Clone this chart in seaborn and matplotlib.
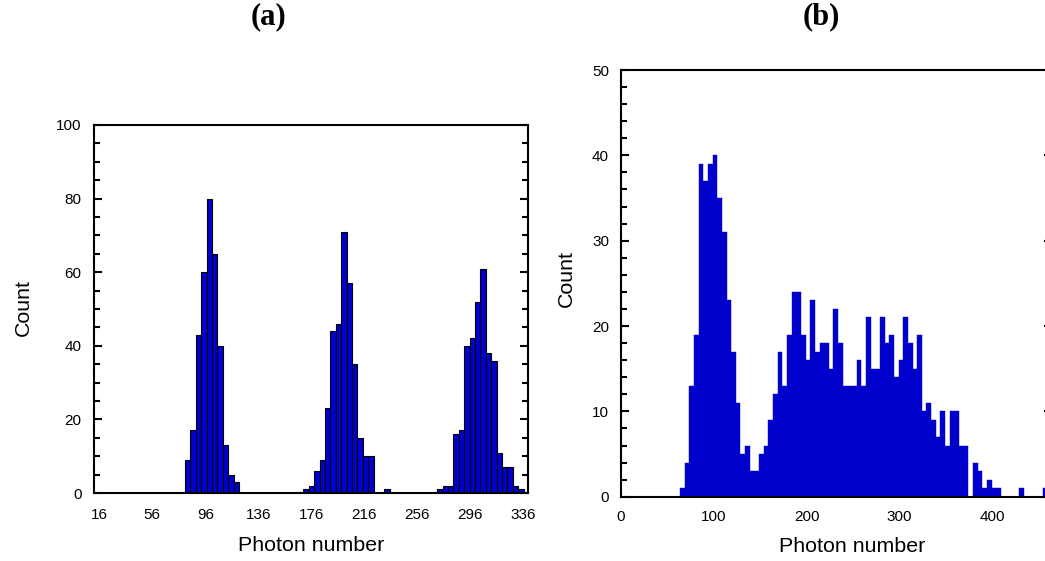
#!/usr/bin/env python3
#
# Photon number histograms, panels (a) and (b)
#
import numpy as np
import pandas as pd
import matplotlib
matplotlib.use('Agg')
import matplotlib.pyplot as plt
import seaborn as sns
from matplotlib.ticker import MultipleLocator

# Panel (a): three separate histograms (one per peak), same bin width
a_bin_width = 4.08
a_peak_starts = [80.7, 170.1, 271.1]
a_peak_counts = [
    [9, 17, 43, 60, 80, 65, 40, 13, 5, 3],
    [1, 2, 6, 9, 23, 44, 46, 71, 57, 35, 15, 10, 10, 0, 0, 1],
    [1, 2, 2, 16, 17, 40, 42, 52, 61, 38, 36, 11, 7, 7, 2, 1],
]
a_xticks = [16, 56, 96, 136, 176, 216, 256, 296, 336]

# Panel (b): one histogram, bin width 5
b_bin_width = 5
b_start = 64
b_counts = [
    1, 4, 13, 19, 39, 37, 39, 40, 35, 31, 23, 17, 11, 5, 6, 3, 3, 5, 6, 9,
    12, 17, 13, 19, 24, 24, 19, 16, 23, 17, 18, 18, 15, 22, 18, 13, 13, 13,
    16, 13, 21, 15, 15, 21, 18, 19, 14, 16, 21, 18, 15, 19, 10, 11, 9, 7,
    10, 6, 10, 10, 6, 6, 0, 4, 3, 1, 2, 1, 1, 0, 0, 0, 0, 1, 0, 0, 0, 0, 1,
]
b_xticks = [0, 100, 200, 300, 400]

blue = '#0000CC'

sns.set_style('white')
plt.rcParams['font.family'] = ['Liberation Sans', 'DejaVu Sans']
plt.rcParams['text.color'] = 'black'
plt.rcParams['axes.labelcolor'] = 'black'
plt.rcParams['xtick.color'] = 'black'
plt.rcParams['ytick.color'] = 'black'


def hist_frame(start, width, counts):
    # One row per counted event, placed at its bin centre
    edges = start + width * np.arange(len(counts) + 1)
    centers = edges[:-1] + width / 2
    df = pd.DataFrame({'photon': np.repeat(centers, counts)})
    return df, [float(e) for e in edges]


def style_axes(ax, ymajor, yminor, ypad, xpad):
    for sp in ax.spines.values():
        sp.set_visible(True)
        sp.set_linewidth(1.5)
        sp.set_color('black')
    ax.yaxis.set_major_locator(MultipleLocator(ymajor))
    ax.yaxis.set_minor_locator(MultipleLocator(yminor))
    ax.tick_params(axis='y', which='major', direction='in', left=True,
                   right=True, length=6, width=1.5, labelsize=11, pad=ypad,
                   colors='black')
    ax.tick_params(axis='y', which='minor', direction='in', left=True,
                   right=True, length=4, width=1.5, colors='black')
    ax.tick_params(axis='x', which='both', bottom=False, top=False,
                   length=0, labelsize=11, pad=xpad, colors='black')


fig = plt.figure(figsize=(10.45, 5.61), dpi=100)

#
# Panel (a)
#
ax = fig.add_axes([0.0900, 0.1212, 0.4156, 0.6560])
for start, counts in zip(a_peak_starts, a_peak_counts):
    df, edges = hist_frame(start, a_bin_width, counts)
    sns.histplot(data=df, x='photon', bins=edges, ax=ax,
                 color=blue, alpha=1, edgecolor='black', linewidth=0.8)
ax.set_xlim(12, 340)
ax.set_ylim(0, 100)
ax.set_xticks(a_xticks)
style_axes(ax, 20, 5, 8.9, 10.8)
ax.set_xlabel('Photon number', fontsize=15.4)
ax.set_ylabel('Count', fontsize=15.4)
ax.xaxis.set_label_coords(0.5, -0.118)
ax.yaxis.set_label_coords(-0.141, 0.505)

#
# Panel (b) (right edge runs past the figure, as in the original)
#
ax = fig.add_axes([0.5938, 0.1146, 0.4129, 0.7606])
df, edges = hist_frame(b_start, b_bin_width, b_counts)
sns.histplot(data=df, x='photon', bins=edges, ax=ax,
             color=blue, alpha=1, edgecolor=blue, linewidth=0.3)
ax.set_xlim(0, 464)
ax.set_ylim(0, 50)
ax.set_xticks(b_xticks)
style_axes(ax, 10, 2, 8.3, 9.6)
ax.set_xlabel('Photon number', fontsize=15.4)
ax.set_ylabel('Count', fontsize=15.4)
ax.xaxis.set_label_coords(0.536, -0.0933)
ax.yaxis.set_label_coords(-0.1035, 0.5125)

# Panel letters
fig.text(269 / 1045, 1 - 16.7 / 561, '(a)', ha='center', va='center',
         fontsize=22, fontweight='bold', family='Liberation Serif')
fig.text(821 / 1045, 1 - 16.7 / 561, '(b)', ha='center', va='center',
         fontsize=22, fontweight='bold', family='Liberation Serif')

plt.savefig('out.png', dpi=100)
